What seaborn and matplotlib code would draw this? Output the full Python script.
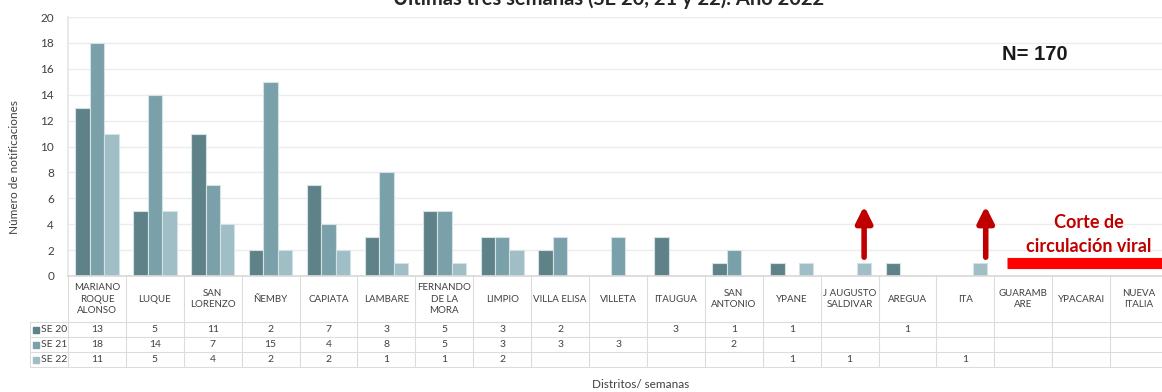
import matplotlib
matplotlib.use("Agg")
import matplotlib.pyplot as plt
import matplotlib.transforms as mtransforms
import numpy as np
import pandas as pd
import seaborn as sns

# Notificaciones por distrito, últimas tres semanas epidemiológicas
distritos = [
    "MARIANO\nROQUE\nALONSO", "LUQUE", "SAN\nLORENZO", "ÑEMBY", "CAPIATA",
    "LAMBARE", "FERNANDO\nDE LA\nMORA", "LIMPIO", "VILLA ELISA", "VILLETA",
    "ITAUGUA", "SAN\nANTONIO", "YPANE", "J AUGUSTO\nSALDIVAR", "AREGUA",
    "ITA", "GUARAMB\nARE", "YPACARAI", "NUEVA\nITALIA",
]
semanas = ["SE 20", "SE 21", "SE 22"]
se20 = [13, 5, 11, 2, 7, 3, 5, 3, 2, None, 3, 1, 1, None, 1, None, None, None, None]
se21 = [18, 14, 7, 15, 4, 8, 5, 3, 3, 3, None, 2, None, None, None, None, None, None, None]
se22 = [11, 5, 4, 2, 2, 1, 1, 2, None, None, None, None, 1, 1, None, 1, None, None, None]
colores = ["#5f8289", "#7aa0a9", "#a0bec5"]
total_n = 170

series = {"SE 20": se20, "SE 21": se21, "SE 22": se22}
rows = []
for sem, vals in series.items():
    for d, v in zip(distritos, vals):
        rows.append({"distrito": d, "semana": sem, "n": v})
df = pd.DataFrame(rows).dropna()

sns.set_theme(style="white")
plt.rcParams["font.family"] = ["Lato", "DejaVu Sans"]

W, H = 1162, 392
fig = plt.figure(figsize=(W / 100, H / 100), dpi=100)

def fx(px):
    return px / W

def fy(py):
    return (H - py) / H

ncat = len(distritos)
col_w = 57.9
ax_left, ax_top, ax_bot = 68, 17, 276
ax = fig.add_axes([fx(ax_left), fy(ax_bot), fx(col_w * ncat), (ax_bot - ax_top) / H])

sns.barplot(
    data=df, x="distrito", y="n", hue="semana", order=distritos,
    hue_order=semanas, palette=colores, width=0.75, ax=ax,
    legend=False, linewidth=0.8, edgecolor="#d5e2e5", saturation=1,
)

ax.set_xlim(-0.5, ncat - 0.5)
ax.set_ylim(0, 20)
ax.set_yticks(np.arange(0, 21, 2))
ax.tick_params(axis="y", labelsize=8.5, labelcolor="#404040", length=0, pad=10)
ax.set_xticks([])
ax.set_xlabel("")
ax.set_ylabel("")
ax.grid(axis="y", color="#ececec", linewidth=1)
ax.set_axisbelow(True)
for s in ["top", "right"]:
    ax.spines[s].set_visible(False)
ax.spines["left"].set_color("#e6e6e6")
ax.spines["bottom"].set_color("#d9d9d9")

# Anotaciones: flechas sobre las últimas notificaciones y corte de circulación
for xi in [13.25, 15.35]:
    ax.annotate(
        "", xy=(xi, 5.4), xytext=(xi, 1.45),
        arrowprops=dict(arrowstyle="-|>,head_width=0.4,head_length=0.8",
                        color="#c00000", lw=4, shrinkA=0, shrinkB=0),
    )
ax.plot([15.72, 18.6], [1.0, 1.0], color="#ff0000", lw=8, solid_capstyle="butt", clip_on=False)
fig.text(fx(1089), fy(222), "Corte de", color="#c00000", fontsize=13,
         fontweight="bold", ha="center", va="center")
fig.text(fx(1089), fy(246), "circulación viral", color="#c00000", fontsize=13,
         fontweight="bold", ha="center", va="center")
fig.text(fx(1035), fy(55), f"N= {total_n}", fontsize=14.5, fontweight="bold",
         ha="center", va="center", color="#1a1a1a", family="Liberation Sans")

# Títulos de ejes
fig.text(fx(609), fy(5), "Últimas tres semanas (SE 20, 21 y 22). Año 2022",
         fontsize=14.5, fontweight="bold", ha="center", va="baseline", color="#262626")
fig.text(fx(15), fy(167), "Número de notificaciones", rotation=90, fontsize=8.5,
         ha="center", va="center", color="#404040")
fig.text(fx(641), fy(384), "Distritos/ semanas", fontsize=8.5,
         ha="center", va="center", color="#404040")

# Tabla de datos bajo el gráfico
trans = mtransforms.blended_transform_factory(ax.transData, fig.transFigure)
line_c = "#dcdcdc"
header_bot = 322
row_h = 15
table_bot = header_bot + 3 * row_h
for i in range(ncat + 1):
    ax.plot([i - 0.5, i - 0.5], [fy(ax_bot), fy(table_bot)], color=line_c,
            lw=0.8, transform=trans, clip_on=False)
key_left = (30 - ax_left) / col_w - 0.5
for k in range(4):
    yy = fy(header_bot + k * row_h)
    ax.plot([key_left, ncat - 0.5], [yy, yy], color=line_c, lw=0.8,
            transform=trans, clip_on=False)
ax.plot([key_left, key_left], [fy(header_bot), fy(table_bot)], color=line_c,
        lw=0.8, transform=trans, clip_on=False)

for i, d in enumerate(distritos):
    ax.text(i, fy((ax_bot + header_bot) / 2), d, transform=trans, ha="center",
            va="center", fontsize=7, color="#404040", linespacing=1.4,
            clip_on=False)

for r, sem in enumerate(semanas):
    yc = fy(header_bot + r * row_h + row_h / 2)
    ax.plot([(36 - ax_left) / col_w - 0.5], [yc], marker="s", ms=4,
            color=colores[r], transform=trans, clip_on=False)
    ax.text((41 - ax_left) / col_w - 0.5, yc, sem, transform=trans,
            ha="left", va="center", fontsize=7.5, color="#404040", clip_on=False)
    for i, v in enumerate(series[sem]):
        if v is not None:
            ax.text(i, yc, str(v), transform=trans, ha="center", va="center",
                    fontsize=7.5, color="#404040", clip_on=False)

fig.savefig("out.png", dpi=100)
